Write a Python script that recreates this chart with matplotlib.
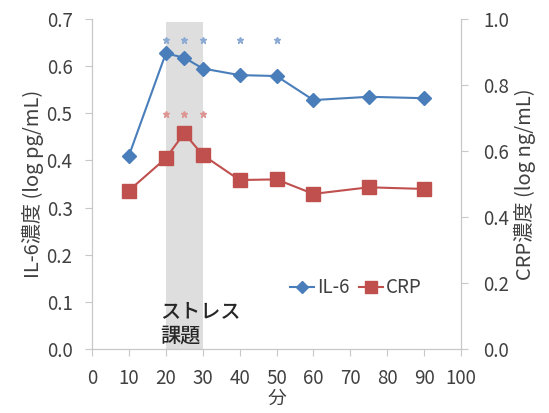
import matplotlib
matplotlib.use("Agg")
import matplotlib.pyplot as plt

plt.rcParams['font.family'] = ['Noto Sans CJK JP', 'DejaVu Sans']

# data
minutes = [10, 20, 25, 30, 40, 50, 60, 75, 90]
il6 = [0.410, 0.627, 0.618, 0.595, 0.581, 0.579, 0.528, 0.535, 0.532]
crp = [0.480, 0.578, 0.654, 0.588, 0.512, 0.514, 0.470, 0.490, 0.485]
il6_sig = [20, 25, 30, 40, 50]
crp_sig = [20, 25, 30]
xticks = list(range(0, 101, 10))
left_ticks = [0.0, 0.1, 0.2, 0.3, 0.4, 0.5, 0.6, 0.7]
right_ticks = [0.0, 0.2, 0.4, 0.6, 0.8, 1.0]

blue = '#4a7ebb'
red = '#c0504d'
grey = '#c8c8c8'
txt = '#404040'

fig = plt.figure(figsize=(5.49, 4.13), dpi=100)
ax = fig.add_axes([92/549, 64/413, 369/549, 330/413])
ax2 = ax.twinx()

ax.axvspan(20, 30, ymax=0.99, color='#dedede', lw=0, zorder=0)

l1, = ax.plot(minutes, il6, color=blue, marker='D', ms=7, lw=1.5, zorder=3)
ax.plot(il6_sig, [0.655] * len(il6_sig), ls='none', marker='*', ms=5,
        color='#8aaad3', zorder=3)
ax.plot(crp_sig, [0.498] * len(crp_sig), ls='none', marker='*', ms=5,
        color='#dc9593', zorder=3)
l2, = ax2.plot(minutes, crp, color=red, marker='s', ms=10, lw=1.5, zorder=3)

ax.set_xlim(0, 100)
ax.set_ylim(0, 0.7)
ax2.set_ylim(0, 1.0)
ax.set_xticks(xticks)
ax.set_yticks(left_ticks)
ax.set_yticklabels([f'{v:.1f}' for v in left_ticks])
ax2.set_yticks(right_ticks)
ax2.set_yticklabels([f'{v:.1f}' for v in right_ticks])

for a in (ax, ax2):
    a.spines['top'].set_visible(False)
    for s in ('left', 'right', 'bottom'):
        a.spines[s].set_color(grey)
    a.tick_params(colors=grey, labelcolor=txt, labelsize=13.5, length=5)
ax.tick_params(axis='x', pad=9)
ax.tick_params(axis='y', pad=9)
ax2.tick_params(axis='y', pad=11)

ax.set_xlabel('分', fontsize=13.5, color=txt, labelpad=-1)
ax.set_ylabel('IL-6濃度 (log pg/mL)', fontsize=14.5, color=txt, labelpad=2)
ax2.set_ylabel('CRP濃度 (log ng/mL)', fontsize=14.5, color=txt, labelpad=3)

ax.text(18.5, 0.008, 'ストレス\n課題', fontsize=14.5, fontweight='medium',
        color='#262626', linespacing=1.35, va='bottom', ha='left', zorder=4)

ax.legend([l1, l2], ['IL-6', 'CRP'], loc='center left',
          bbox_to_anchor=(0.49, 0.185), frameon=False, fontsize=13.5,
          handlelength=1.3, handletextpad=0.15, columnspacing=0.5, ncol=2,
          labelcolor=txt, markerscale=0.85)

fig.savefig('out.png', dpi=100)
